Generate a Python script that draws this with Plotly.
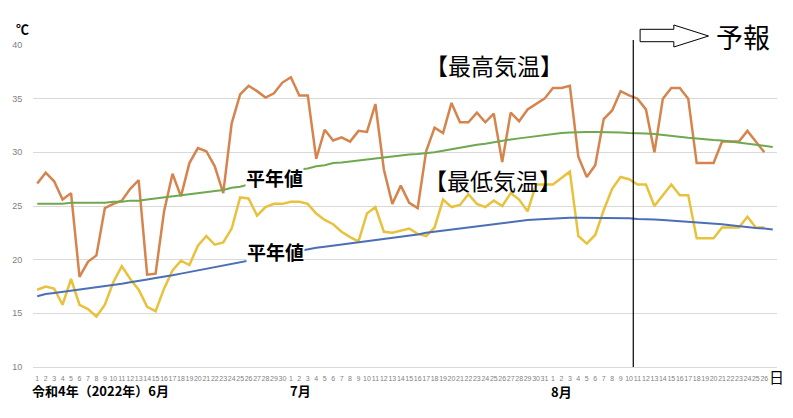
import plotly.graph_objects as go

# ---- data ----
june_days = list(range(1, 31))
july_days = list(range(1, 32))
aug_days = list(range(1, 27))
day_labels = [str(d) for d in june_days + july_days + aug_days]

max_temp = [27.1, 28.1, 27.3, 25.6, 26.2, 18.4, 19.8, 20.4, 24.8, 25.2,
            25.5, 26.6, 27.4, 18.6, 18.7, 24.5, 28.0, 25.9, 29.0, 30.4,
            30.1, 28.7, 26.2, 32.7, 35.4, 36.2, 35.7, 35.1, 35.5, 36.5,
            37.0, 35.3, 35.3, 29.4, 32.1, 31.1, 31.4, 31.0, 32.0, 31.9,
            34.5, 28.4, 25.2, 26.9, 25.3, 24.8, 30.1, 32.3, 31.8, 34.6,
            32.8, 32.8, 33.7, 32.8, 33.6, 29.1, 33.7, 32.9, 34.0, 34.5, 35.0,
            36.0, 36.0, 36.2, 29.6, 27.7, 28.8, 33.1, 33.9, 35.7, 35.3,
            35, 34, 30, 35, 36, 36, 35, 29, 29, 29, 31, 31, 31, 32, 31, 30]

min_temp = [17.2, 17.5, 17.3, 15.8, 18.2, 15.8, 15.4, 14.7, 15.8, 17.9,
            19.4, 18.2, 17.2, 15.6, 15.2, 17.3, 19.0, 19.9, 19.5, 21.3,
            22.2, 21.4, 21.6, 22.9, 25.8, 25.7, 24.1, 24.9, 25.2, 25.2,
            25.4, 25.4, 25.2, 24.3, 23.7, 23.3, 22.6, 22.1, 21.7, 24.3,
            24.9, 22.6, 22.5, 22.7, 22.9, 22.4, 22.2, 23.0, 25.6, 24.9,
            25.1, 26.1, 25.2, 24.9, 25.5, 25.0, 26.2, 25.6, 24.5, 27.0, 27.0,
            27.0, 27.6, 28.2, 22.2, 21.5, 22.3, 24.6, 26.6, 27.7, 27.5,
            27, 27, 25, 26, 27, 26, 26, 22, 22, 22, 23, 23, 23, 24, 23, 23]

normal_max = [25.2, 25.2, 25.2, 25.2, 25.3, 25.3, 25.3, 25.3, 25.3, 25.4,
              25.4, 25.5, 25.5, 25.6, 25.7, 25.8, 25.9, 26.0, 26.1, 26.2,
              26.3, 26.4, 26.5, 26.7, 26.8, 27.0, 27.2, 27.4, 27.6, 27.8,
              28.1, 28.4, 28.5, 28.7, 28.8, 29.0, 29.05, 29.15, 29.25, 29.35,
              29.45, 29.55, 29.65, 29.75, 29.8, 29.85, 29.9, 30.0, 30.15, 30.3,
              30.4, 30.55, 30.7, 30.8, 30.95, 31.05, 31.2, 31.3, 31.4, 31.5,
              31.65, 31.75, 31.8, 31.85, 31.9, 31.9, 31.9, 31.9, 31.9, 31.85,
              31.8, 31.8, 31.75, 31.7, 31.6, 31.5, 31.4, 31.35, 31.3, 31.2,
              31.15, 31.1, 31.0, 30.9, 30.85, 30.7, 30.6, 30.5]

normal_min = [16.6, 16.8, 16.9, 17.0, 17.1, 17.2, 17.3, 17.4, 17.5, 17.6,
              17.75, 17.9, 18.0, 18.15, 18.3, 18.4, 18.55, 18.7, 18.85, 19.0,
              19.15, 19.3, 19.45, 19.6, 19.75, 19.9, 20.05, 20.2, 20.4, 20.55,
              20.7, 20.85, 21.0, 21.1, 21.2, 21.3, 21.4, 21.5, 21.6, 21.7,
              21.8, 21.9, 22.0, 22.1, 22.2, 22.35, 22.5, 22.6, 22.7, 22.8,
              22.9, 23.0, 23.1, 23.25, 23.35, 23.45, 23.55, 23.6, 23.7, 23.75,
              23.8, 23.85, 23.9, 23.9, 23.9, 23.9, 23.9, 23.9, 23.9, 23.9,
              23.85, 23.8, 23.8, 23.75, 23.7, 23.65, 23.6, 23.55, 23.5, 23.4,
              23.35, 23.3, 23.2, 23.1, 23.0, 22.95, 22.9, 22.8]

y_ticks = [10, 15, 20, 25, 30, 35, 40]

# ---- layout geometry (pixels) ----
W, H = 793, 418
ML, MR, MT, MB = 27, 16, 45, 51
PW, PH = W - ML - MR, H - MT - MB


def px(x):
    return (x - ML) / PW


def py(y):
    return (H - MB - y) / PH


CJK = "Noto Sans CJK JP"
NUM = "Liberation Sans, Arial, sans-serif"

fig = go.Figure()
xs_obs = list(range(len(max_temp)))
xs_norm = list(range(len(normal_max)))

fig.add_trace(go.Scatter(x=xs_obs, y=max_temp, mode="lines",
                         line=dict(color="#D6844D", width=2.5), hoverinfo="skip"))
fig.add_trace(go.Scatter(x=xs_obs, y=min_temp, mode="lines",
                         line=dict(color="#E8C23C", width=2.5), hoverinfo="skip"))
fig.add_trace(go.Scatter(x=xs_norm, y=normal_max, mode="lines",
                         line=dict(color="#6FA84E", width=2.0), hoverinfo="skip"))
fig.add_trace(go.Scatter(x=xs_norm, y=normal_min, mode="lines",
                         line=dict(color="#4A6FB6", width=2.0), hoverinfo="skip"))

annotations = []


def ann(text, x, y, size, color="black", family=CJK, bg=None, xanchor="center"):
    d = dict(text=text, x=px(x), y=py(y), xref="paper", yref="paper",
             showarrow=False, xanchor=xanchor, yanchor="middle",
             font=dict(family=family, size=size, color=color), borderpad=0)
    if bg:
        d["bgcolor"] = bg
    annotations.append(d)


ann("<b>℃</b>", 16, 29, 13, family=CJK)
ann("<b>平年値</b>", 270, 177, 19, bg="white")
ann("<b>平年値</b>", 271, 252, 19, bg="white")
ann("【最高気温】", 492, 65, 23)
ann("【最低気温】", 491, 180, 23)
ann("予報", 743, 37, 27)
ann("日", 776, 376, 15)
ann("<b>令和4年（2022年）6月</b>", 95, 390, 13)
ann("<b>7月</b>", 297, 390, 13)
ann("<b>8月</b>", 560, 391, 13)

shapes = [
    dict(type="line", xref="paper", yref="paper",
         x0=(70.5 + 0.5) / 88, x1=(70.5 + 0.5) / 88,
         y0=py(367), y1=py(40), line=dict(color="black", width=1.2)),
]
arrow_pts = [(639, 29.3), (673, 29.3), (673, 25), (708, 36), (673, 47),
             (673, 41.7), (639, 41.7)]
path = "M " + " L ".join(f"{px(a):.5f},{py(b):.5f}" for a, b in arrow_pts) + " Z"
shapes.append(dict(type="path", xref="paper", yref="paper", path=path,
                   fillcolor="white", line=dict(color="black", width=1)))

fig.update_layout(
    width=W, height=H,
    margin=dict(l=ML, r=MR, t=MT, b=MB, pad=0),
    paper_bgcolor="white", plot_bgcolor="white",
    showlegend=False,
    annotations=annotations,
    shapes=shapes,
    xaxis=dict(range=[-0.5, len(normal_max) - 0.5], tickmode="array",
               tickvals=list(range(len(day_labels))), ticktext=day_labels,
               tickangle=0, tickfont=dict(family=NUM, size=7, color="#7F7F7F"),
               ticks="outside", ticklen=5, tickcolor="rgba(0,0,0,0)",
               showgrid=False, zeroline=False,
               showline=True, linecolor="#D9D9D9", linewidth=1),
    yaxis=dict(range=[10, 40], tickmode="array", tickvals=y_ticks,
               tickfont=dict(family=NUM, size=9, color="#7F7F7F"),
               ticks="outside", ticklen=8, tickcolor="rgba(0,0,0,0)",
               showgrid=True, gridcolor="#D9D9D9", gridwidth=1,
               zeroline=False, showline=False),
)

fig.write_html("out.html")
